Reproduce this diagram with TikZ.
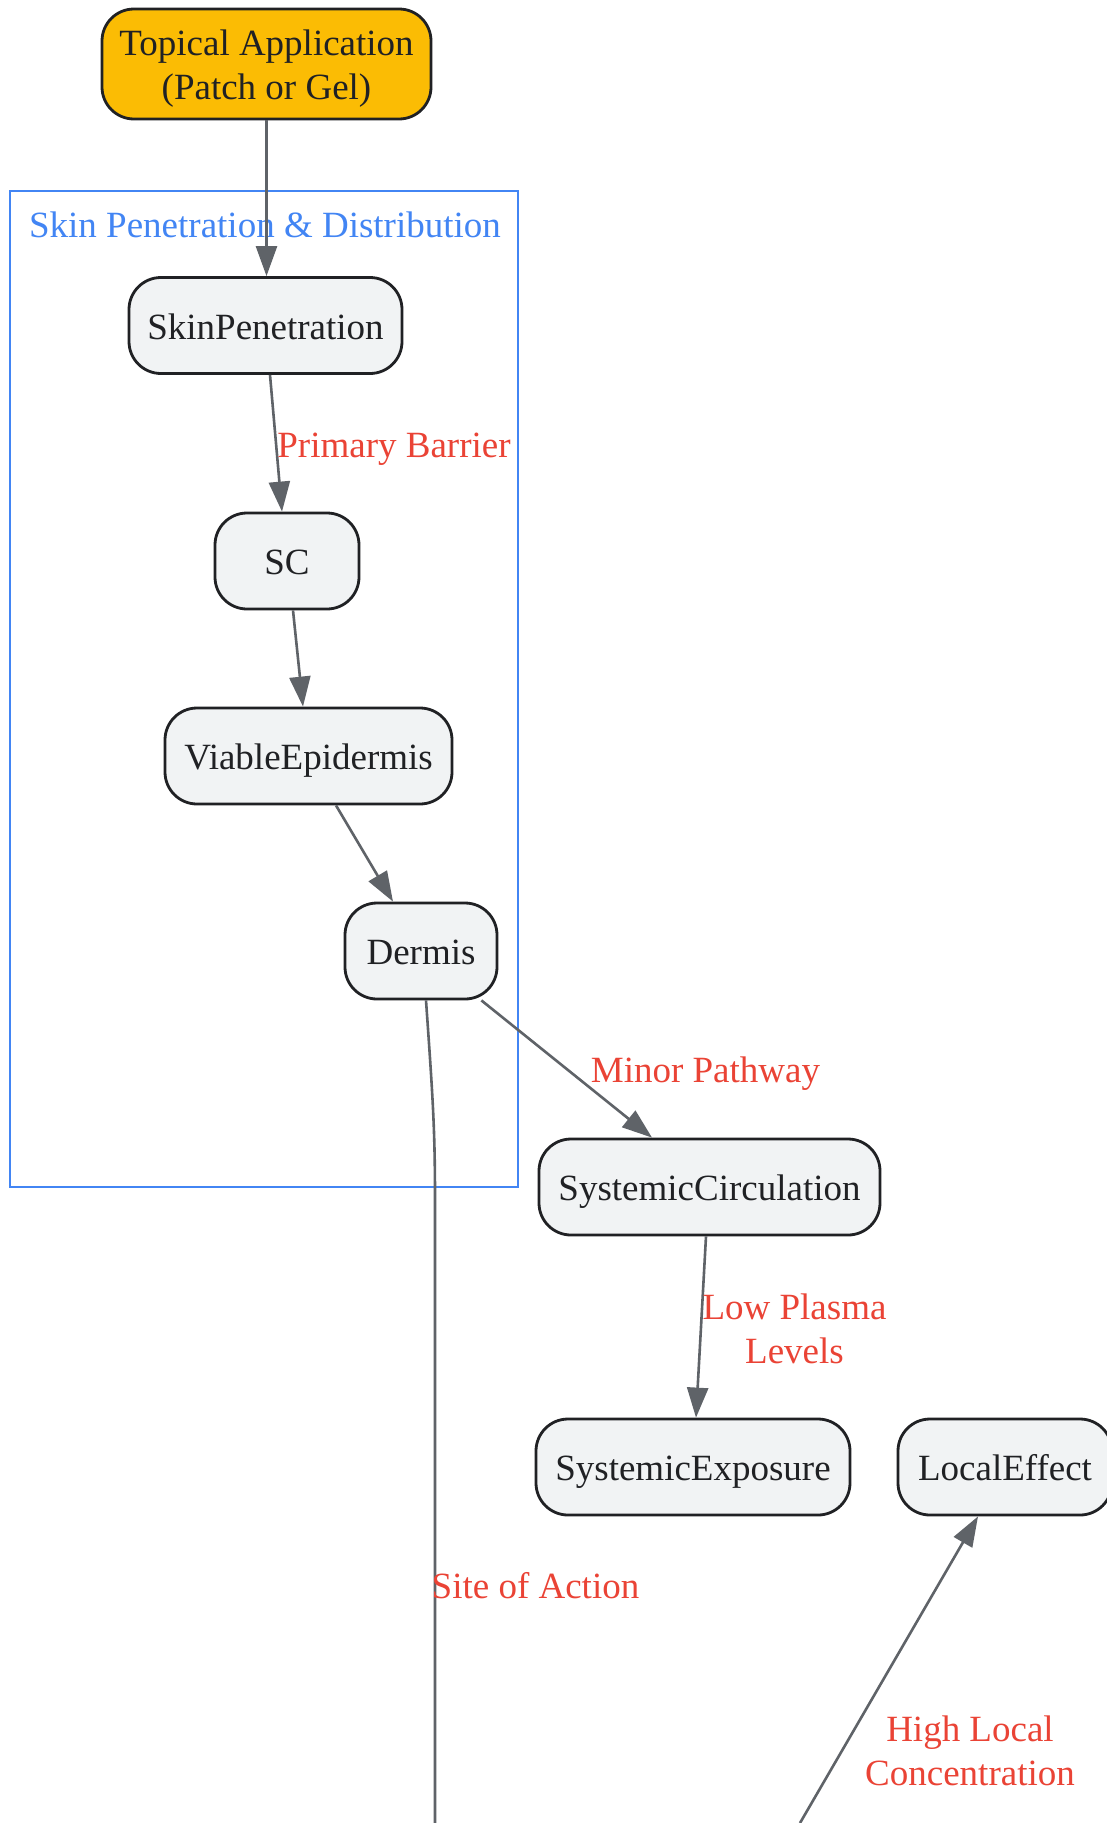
\documentclass[tikz,border=0pt]{standalone}
\usepackage{fontspec}
\setmainfont{Liberation Serif}
\usetikzlibrary{arrows.meta}
\definecolor{nodefill}{HTML}{F1F3F4}
\definecolor{nodeline}{HTML}{202124}
\definecolor{yellowfill}{HTML}{FBBC04}
\definecolor{edgecol}{HTML}{5F6368}
\definecolor{labred}{HTML}{EA4335}
\definecolor{clusterblue}{HTML}{4285F4}
\tikzset{
  box/.style={draw=nodeline, line width=2.8pt, fill=nodefill, rounded corners=32pt,
    inner sep=0pt, text=nodetext, font=\fontsize{37}{44}\selectfont, align=center,
    minimum height=96pt, text height=30pt, text depth=3pt},
  edge/.style={draw=edgecol, line width=2.6pt, -{Triangle[length=30pt,width=21pt]}},
  plainedge/.style={draw=edgecol, line width=2.6pt},
  lbl/.style={text=labred, font=\fontsize{37}{44}\selectfont, inner sep=0pt, align=center},
  clusterbox/.style={draw=clusterblue, line width=2pt},
  clustertitle/.style={text=clusterblue, font=\fontsize{37}{44}\selectfont, inner sep=0pt}
}
\colorlet{nodetext}{nodeline}
\begin{document}
\begin{tikzpicture}[x=1pt, y=-1pt]
\useasboundingbox[fill=white] (0,0) rectangle (1106,1823);
% cluster
\draw[clusterbox] (9.5,191) rectangle (517.5,1187);
\node[clustertitle, anchor=base] (ctitle) at (265,237) {Skin Penetration \& Distribution};
% nodes
\node[box, fill=yellowfill, minimum width=329pt, minimum height=110pt, text height=74pt, text depth=3pt] (top) at (266.5,64) {Topical Application\\(Patch or Gel)};
\node[box, minimum width=273pt] (skin) at (265.5,325.5) {SkinPenetration};
\node[box, minimum width=144pt] (sc) at (287,561) {SC};
\node[box, minimum width=287pt] (viable) at (308.5,756) {ViableEpidermis};
\node[box, minimum width=152pt] (dermis) at (421,951) {Dermis};
\node[box, minimum width=341pt] (syscirc) at (709.5,1187) {SystemicCirculation};
\node[box, minimum width=314pt] (sysexp) at (693,1467) {SystemicExposure};
\node[box, minimum width=214pt] (local) at (1005,1467) {LocalEffect};
% free ends below the page edge
\coordinate (siteend) at (435,1823);
\coordinate (localstart) at (800,1823);
% edges
\draw[edge] (top.south) -- (top.south |- skin.north);
\draw[edge] ([xshift=4.5pt]skin.south) -- ([xshift=-5pt]sc.north);
\draw[edge] ([xshift=6pt]sc.south) -- ([xshift=-5.5pt]viable.north);
\draw[edge] ([xshift=27.5pt]viable.south) -- ([xshift=-28pt]dermis.north);
\draw[edge] ([xshift=-17pt]dermis.south east) -- ([xshift=-57.5pt]syscirc.north);
\draw[edge] ([xshift=-3.5pt]syscirc.south) -- ([xshift=3pt]sysexp.north);
\draw[plainedge] ([xshift=5pt]dermis.south) .. controls (433,1100) and (435,1130) .. (435,1200) -- (siteend);
\draw[edge] (localstart) -- ([xshift=-27pt]local.south);
% labels
\node[lbl, anchor=base] (lprimary) at (394,457) {Primary Barrier};
\node[lbl, anchor=base] (lminor) at (705.5,1082) {Minor Pathway};
\node[lbl] (lplasma) at (794.5,1328.5) {Low Plasma\\Levels};
\node[lbl, anchor=base] (lsite) at (535.5,1598) {Site of Action};
\node[lbl] (lhigh) at (970,1750.5) {High Local\\Concentration};
\end{tikzpicture}
\end{document}
